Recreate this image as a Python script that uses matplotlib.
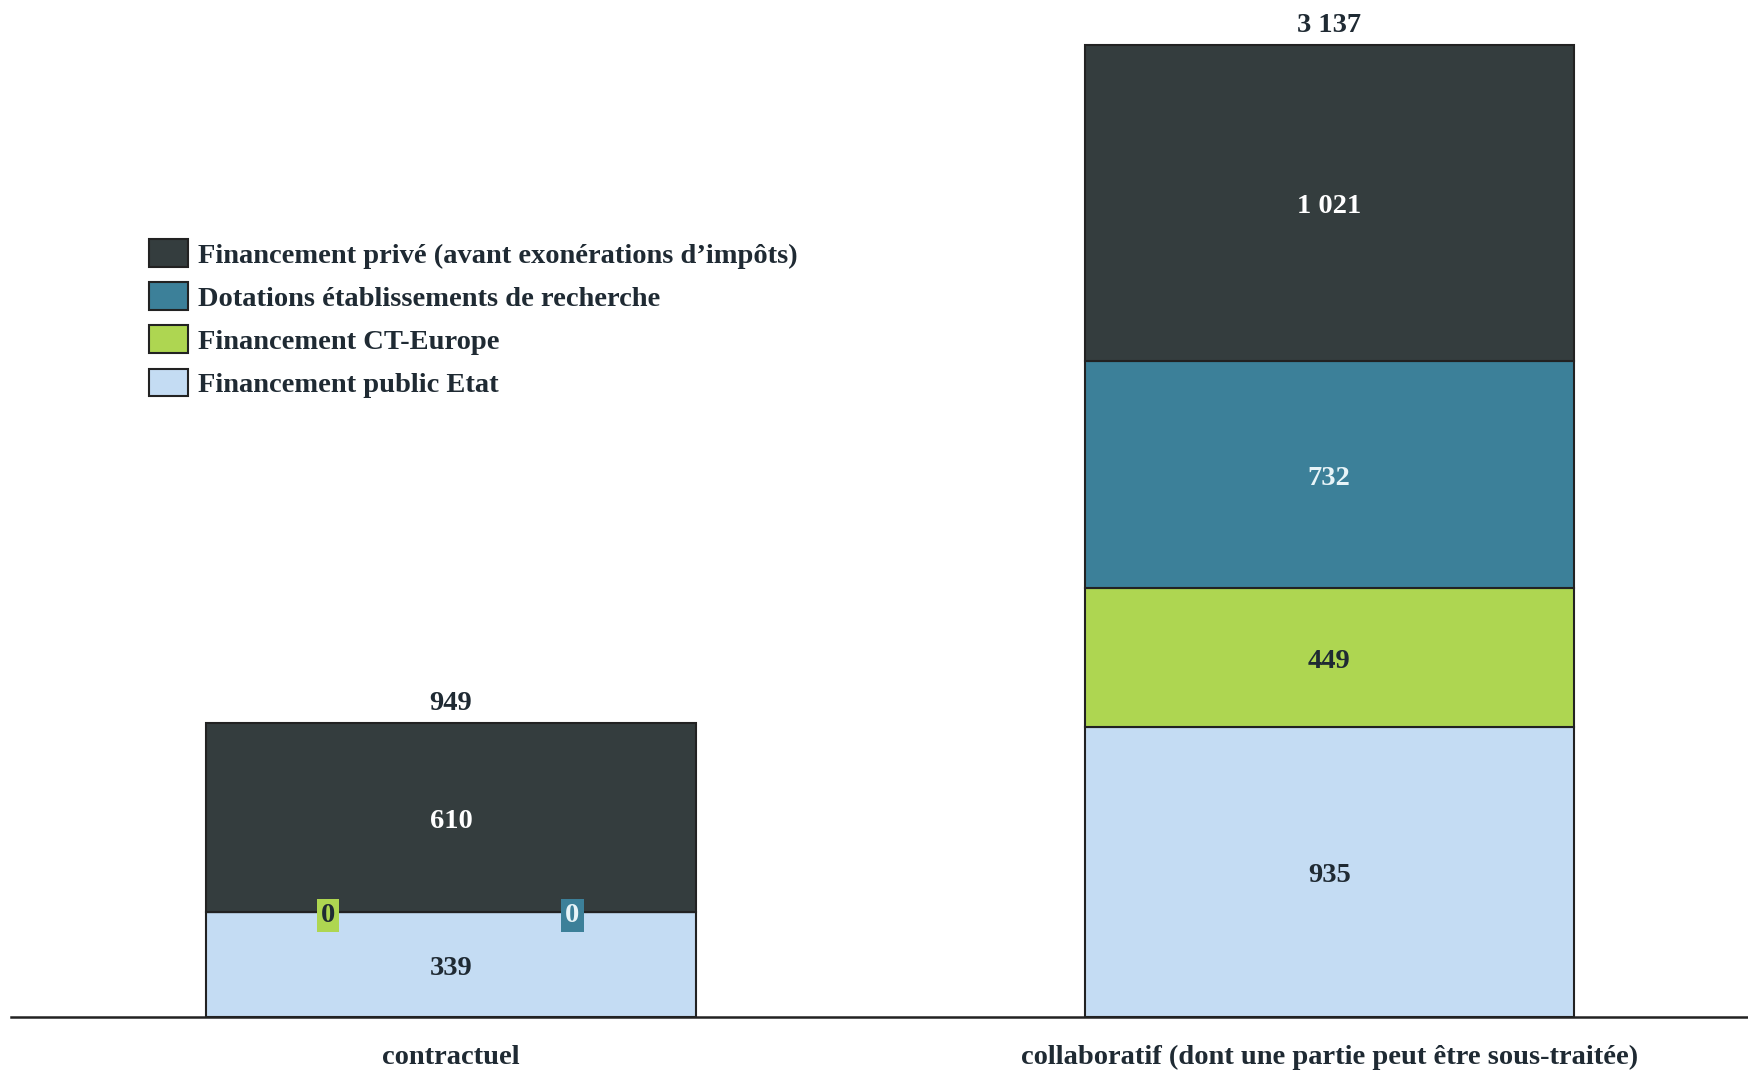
import matplotlib.pyplot as plt
import numpy as np

plt.rcParams['font.family'] = ['Liberation Serif', 'DejaVu Serif']
plt.rcParams['font.weight'] = 'bold'

# data
categories = ['contractuel', 'collaboratif (dont une partie peut être sous-traitée)']
series_names = ['Financement public Etat', 'Financement CT-Europe',
                'Dotations établissements de recherche',
                'Financement privé (avant exonérations d\u2019impôts)']
public_etat = [339, 935]
ct_europe = [0, 449]
dotations = [0, 732]
prive = [610, 1021]
totals = ['949', '3 137']

colors = ['#c4dcf3', '#aed651', '#3c8099', '#343d3e']
text_colors = ['#1f2a33', '#1f2a33', '#e8f4f8', '#ffffff']
zero_offsets = [0, -0.14, 0.138, 0]
fs = 20.5

def fmt(v):
    return '{:,}'.format(v).replace(',', ' ')

fig = plt.figure(figsize=(17.49, 10.73), dpi=100)
ax = fig.add_axes([11 / 1749, 56 / 1073, 1 - 11 / 1749, 1017 / 1073])

x = np.arange(len(categories))
width = 0.557
bottom = np.zeros(len(categories))
handles = []
for name, vals, c, tc, off in zip(series_names, [public_etat, ct_europe, dotations, prive],
                                  colors, text_colors, zero_offsets):
    vals = np.array(vals)
    b = ax.bar(x, vals, width, bottom=bottom, color=c, edgecolor='#222222',
               linewidth=1.5, label=name)
    handles.append(b)
    for xi, v, bt in zip(x, vals, bottom):
        if v == 0:
            ax.text(xi + off, bt - 12, '0', ha='center', va='center', fontsize=fs,
                    color=tc if c != '#aed651' else '#1f2a33',
                    bbox=dict(boxstyle='square,pad=0.15', fc=c, ec='none'))
        else:
            ax.text(xi, bt + v / 2 - 12, fmt(v), ha='center', va='center',
                    fontsize=fs, color=tc)
    bottom = bottom + vals

for xi, tot, t in zip(x, bottom, totals):
    ax.text(xi, tot + 22, t, ha='center', va='bottom', fontsize=fs, color='#1f2a33')

ax.set_xlim(-0.501, 1.478)
ax.set_ylim(0, 3281)
for s in ['top', 'right', 'left']:
    ax.spines[s].set_visible(False)
ax.spines['bottom'].set_linewidth(1.8)
ax.spines['bottom'].set_color('#222222')
ax.set_yticks([])
ax.set_xticks(x)
ax.set_xticklabels(categories, fontsize=fs, color='#1f2a33')
ax.tick_params(axis='x', length=0, pad=20)

leg = ax.legend(handles[::-1], series_names[::-1], loc='upper left',
                bbox_to_anchor=(0.0794, 0.765), frameon=False, fontsize=fs,
                borderaxespad=0, borderpad=0,
                handlelength=1.37, handleheight=1.12, labelspacing=0.48,
                handletextpad=0.35)
for t in leg.get_texts():
    t.set_color('#1f2a33')

fig.savefig('out.png', dpi=100)
